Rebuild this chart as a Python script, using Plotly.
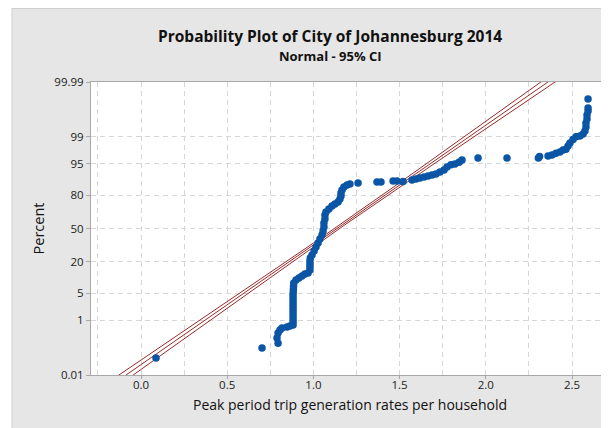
import numpy as np
import plotly.graph_objects as go
from statistics import NormalDist

# ---------------- data ----------------
trip_rate = [
    0.087, 0.702,
    0.795, 0.789, 0.795, 0.806, 0.818, 0.847, 0.864, 0.882,
    0.882, 0.882, 0.882, 0.882, 0.882, 0.882, 0.882, 0.882, 0.882, 0.882,
    0.883, 0.884, 0.885, 0.886,
    0.899, 0.916, 0.934, 0.951, 0.969,
    0.980, 0.980, 0.980, 0.980, 0.982,
    0.992, 1.004, 1.015, 1.027, 1.038, 1.050, 1.056, 1.061, 1.061, 1.067,
    1.067, 1.073, 1.090, 1.108, 1.125, 1.143, 1.154, 1.160, 1.160, 1.166,
    1.177, 1.195, 1.212, 1.259,
    1.369, 1.392, 1.462, 1.485, 1.520, 1.572, 1.595, 1.618, 1.642, 1.665,
    1.688, 1.711, 1.734, 1.758, 1.775, 1.798, 1.821, 1.845, 1.862,
    1.955, 2.123, 2.305, 2.312,
    2.361, 2.384, 2.407, 2.430, 2.448, 2.465, 2.477, 2.488, 2.506, 2.523,
    2.546, 2.564, 2.575, 2.581, 2.581, 2.587, 2.587, 2.593, 2.593, 2.593,
]
percent = [
    0.050, 0.12,
    0.18, 0.27, 0.40, 0.50, 0.58, 0.62, 0.67, 0.71,
    0.88, 1.08, 1.31, 1.59, 1.93, 2.31, 2.76, 3.28, 3.88, 4.57,
    5.35, 6.23, 7.21, 8.32,
    9.56, 10.4, 11.4, 12.4, 12.9,
    14.6, 16.4, 18.4, 20.5, 22.7,
    25.0, 28.4, 31.9, 35.6, 39.5, 43.4, 47.5, 51.5, 55.6, 59.5,
    63.4, 66.2, 69.0, 71.6, 73.3, 74.9, 77.3, 79.5, 81.6, 83.6,
    85.4, 86.5, 87.1, 87.6,
    88.1, 88.1, 88.6, 88.6, 88.4, 89.1, 89.6, 90.0, 90.4, 90.9,
    91.3, 91.7, 92.4, 93.1, 94.1, 94.7, 94.9, 95.4, 95.9,
    96.3, 96.3, 96.3, 96.6,
    96.7, 96.9, 97.2, 97.4, 97.7, 97.8, 98.2, 98.5, 98.8, 99.0,
    99.06, 99.18, 99.33, 99.50, 99.63, 99.73, 99.80, 99.857, 99.889, 99.950,
]

# fitted normal distribution (Minitab fit) and sample size for the 95% CI
fit_mean = 1.137
fit_stdev = 0.329
sample_n = 1950

y_tick_percent = [0.01, 1, 5, 20, 50, 80, 95, 99, 99.99]
y_tick_text = ["0.01", "1", "5", "20", "50", "80", "95", "99", "99.99"]
x_tick_vals = [0.0, 0.5, 1.0, 1.5, 2.0, 2.5]
x_tick_text = ["0.0", "0.5", "1.0", "1.5", "2.0", "2.5"]

# ---------------- probability scale ----------------
nd = NormalDist()
def pscale(p):
    return nd.inv_cdf(p / 100.0)

y_pts = [pscale(p) for p in percent]
y_ticks = [pscale(p) for p in y_tick_percent]
zmax = pscale(99.99)

zline = np.linspace(-zmax - 0.05, zmax + 0.05, 200)
xfit = fit_mean + fit_stdev * zline
se = fit_stdev * np.sqrt(1.0 / sample_n + zline ** 2 / (2.0 * sample_n))
zc = nd.inv_cdf(0.975)
xlo = xfit - zc * se
xhi = xfit + zc * se

# ---------------- figure ----------------
# the page body has an 8px margin, so the figure starts at (8, 8) in the window;
# the plot area is cut by the right window edge, as in the reference
OFF = 8
W, H = 640 - OFF, 428 - OFF
L, R, T, B = 91 - OFF, 0, 82 - OFF, 53
pw, ph = W - L - R, H - T - B
x_range = [-0.290, 2.8944]

def px_x(px):          # window pixel -> paper fraction
    return (px - OFF - L) / pw
def px_y(py):
    return (H - B - (py - OFF)) / ph

line_col = "#9a2a2a"
fig = go.Figure()
for xs in (xhi, xlo, xfit):
    fig.add_trace(go.Scatter(x=xs, y=zline, mode="lines",
                             line=dict(color=line_col, width=1),
                             hoverinfo="skip", showlegend=False))
fig.add_trace(go.Scatter(x=trip_rate, y=y_pts, mode="markers",
                         marker=dict(color="#0a55a5", size=7.5, line=dict(width=0)),
                         showlegend=False))

font_fam = "Open Sans, DejaVu Sans, sans-serif"
grid_col = "#d6d6d6"
fig.update_layout(
    width=W, height=H,
    margin=dict(l=L, r=R, t=T, b=B, pad=0),
    paper_bgcolor="#e6e6e6",
    plot_bgcolor="white",
    font=dict(family=font_fam, size=11, color="#222"),
    showlegend=False,
    xaxis=dict(
        range=x_range,
        tickmode="array", tickvals=x_tick_vals, ticktext=x_tick_text,
        showgrid=True, gridcolor=grid_col, griddash="5px,4px", gridwidth=1,
        minor=dict(dtick=0.25, tick0=0, showgrid=True, gridcolor=grid_col,
                   griddash="5px,4px", ticks=""),
        zeroline=False,
        showline=True, linecolor="#a8a8a8", linewidth=1, mirror=True,
        ticks="outside", ticklen=3, tickcolor="#a8a8a8",
        ticklabelstandoff=-4,
        tickfont=dict(size=11.5, color="#222"),
    ),
    yaxis=dict(
        range=[-zmax, zmax],
        tickmode="array", tickvals=y_ticks, ticktext=y_tick_text,
        showgrid=True, gridcolor=grid_col, griddash="5px,4px", gridwidth=1,
        zeroline=False,
        showline=True, linecolor="#a8a8a8", linewidth=1, mirror=True,
        ticks="outside", ticklen=4, tickcolor="#a8a8a8",
        tickfont=dict(size=11.5, color="#222"),
        title=dict(text="Percent", font=dict(size=14.5, color="#111"), standoff=6),
    ),
    annotations=[
        dict(text="<b>Probability Plot of City of Johannesburg 2014</b>",
             x=px_x(330), y=px_y(36), xref="paper", yref="paper",
             xanchor="center", yanchor="middle", showarrow=False,
             font=dict(size=15.5, color="#111")),
        dict(text="<b>Normal - 95% CI</b>",
             x=px_x(330), y=px_y(56), xref="paper", yref="paper",
             xanchor="center", yanchor="middle", showarrow=False,
             font=dict(size=13, color="#111")),
        dict(text="Peak period trip generation rates per household",
             x=px_x(350), y=px_y(404), xref="paper", yref="paper",
             xanchor="center", yanchor="middle", showarrow=False,
             font=dict(size=14, color="#111")),
    ],
    shapes=[
        dict(type="rect", xref="paper", yref="paper",
             x0=px_x(0), x1=px_x(12), y0=px_y(H + OFF + 5), y1=px_y(0),
             fillcolor="white", line=dict(width=0), layer="above"),
        dict(type="line", xref="paper", yref="paper",
             x0=px_x(12), x1=px_x(12), y0=px_y(8), y1=px_y(H + OFF + 5),
             line=dict(color="#cfcfcf", width=1), layer="above"),
        dict(type="line", xref="paper", yref="paper",
             x0=px_x(12), x1=px_x(W + OFF + 5), y0=px_y(8.5), y1=px_y(8.5),
             line=dict(color="#cfcfcf", width=1), layer="above"),
    ],
)

fig.write_html("out.html")
